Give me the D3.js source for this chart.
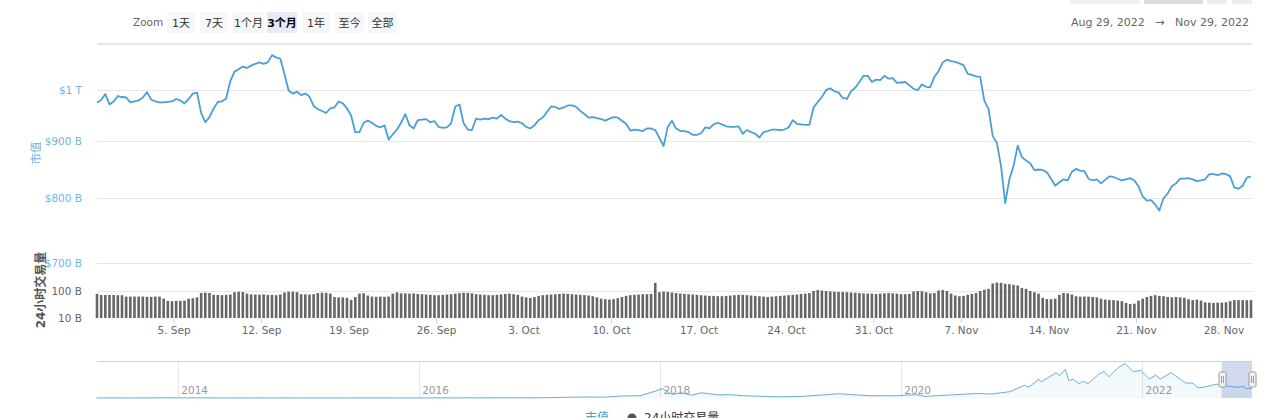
<!DOCTYPE html>
<html><head><meta charset="utf-8">
<script src="https://cdn.jsdelivr.net/npm/d3@7"></script>
<style>
html,body{margin:0;padding:0;background:#fff;}
svg{display:block;font-family:"DejaVu Sans","Noto Sans CJK SC",sans-serif;}
</style></head>
<body><svg id="c" width="1280" height="418"></svg>
<script>
// ---------- DATA ----------
const seriesStart = "2022-08-29T21:00:00Z";   // first sample
const stepHours = 8;                          // sampling interval
// total market cap, $B
const priceValues = [
975,980,992,971,977,988,986,985,975,977,
979,985,996,981,977,975,975,976,977,982,
979,973,982,993,995,954,936,946,963,976,
977,983,1019,1039,1044,1050,1047,1052,1056,1059,
1056,1059,1075,1070,1067,1034,999,993,997,990,
993,987,968,962,958,954,963,965,977,973,
963,949,917,917,935,939,935,929,926,930,
903,913,922,935,952,930,924,940,941,942,
936,938,927,925,926,934,967,971,934,922,
921,943,941,943,942,945,943,950,943,938,
936,937,934,927,924,930,940,945,956,967,
966,962,965,969,969,966,958,952,945,946,
944,942,939,943,946,945,939,933,920,922,
921,919,924,924,921,906,891,927,939,924,
919,919,917,912,912,915,926,924,932,935,
932,928,927,927,928,914,921,917,914,907,
917,919,922,922,921,922,926,940,933,932,
931,931,965,976,986,1000,1004,998,995,984,
982,998,1005,1017,1030,1030,1017,1022,1021,1030,
1024,1025,1015,1016,1017,1010,1003,1000,1012,1007,
1006,1028,1040,1059,1065,1062,1060,1057,1053,1034,
1032,1029,1028,978,962,910,897,855,792,832,
855,892,871,865,860,848,849,848,844,833,
821,827,832,830,845,850,847,846,833,830,
832,825,831,837,836,833,830,832,834,830,
820,803,796,797,790,780,800,808,820,825,
833,833,834,832,829,830,832,841,841,839,
842,841,837,818,816,821,835,837];
// 24h volume, $B
const volumeValues = [
78,71,71,71,71,70,70,62,62,62,
62,62,61,61,62,62,52,43,42,43,
43,44,52,54,58,84,87,84,72,71,
70,72,74,90,94,92,80,75,74,73,
75,71,72,70,74,88,94,94,90,76,
75,74,76,84,87,85,80,60,58,58,
56,47,60,80,82,68,62,61,62,61,
62,80,90,82,82,80,82,78,76,74,
72,70,70,72,74,76,80,84,86,85,
82,76,74,72,70,70,72,75,78,80,
76,72,62,58,55,60,66,70,72,74,
76,78,80,78,76,74,72,70,68,64,
58,52,50,48,50,54,60,66,70,72,
74,76,76,78,200,90,95,92,88,84,
80,78,76,74,72,70,68,66,66,64,
64,66,68,70,72,72,70,68,66,64,
62,60,62,64,66,68,70,72,74,78,
80,84,100,108,104,100,96,94,92,92,
90,88,86,84,82,80,80,78,80,82,
84,82,80,76,76,78,96,100,98,90,
82,84,104,108,100,80,68,64,66,72,
78,84,100,112,120,190,205,200,185,178,
170,160,130,120,100,90,80,56,50,50,
52,72,84,82,74,64,62,62,62,60,
58,52,48,47,46,44,42,36,33,34,
44,52,60,66,70,66,64,60,58,60,
58,56,50,46,48,44,38,37,36,37,
37,38,42,46,46,46,46,46];

const priceTicks = [1000, 900, 800, 700];
const priceTickLabels = ["$1 T", "$900 B", "$800 B", "$700 B"];
const priceGrid = [1100, 1000, 900, 800, 700];
const volumeTicks = [100, 10];
const volumeTickLabels = ["100 B", "10 B"];
const xTickDates = ["2022-09-05","2022-09-12","2022-09-19","2022-09-26","2022-10-03","2022-10-10","2022-10-17","2022-10-24","2022-10-31","2022-11-07","2022-11-14","2022-11-21","2022-11-28"];
const xTickLabels = ["5. Sep","12. Sep","19. Sep","26. Sep","3. Oct","10. Oct","17. Oct","24. Oct","31. Oct","7. Nov","14. Nov","21. Nov","28. Nov"];

const zoomButtons = ["1天","7天","1个月","3个月","1年","至今","全部"];
const selectedButton = "3个月";
const rangeFrom = "Aug 29, 2022";
const rangeTo = "Nov 29, 2022";
const priceTitle = "市值";
const volumeTitle = "24小时交易量";

// navigator: full history market cap ($B)
const navDates = ["2013-04-28","2013-11-30","2014-02-01","2014-06-01","2015-01-15","2015-06-01","2016-01-01","2016-06-15","2017-01-01","2017-05-25","2017-07-15","2017-09-01","2017-11-01","2017-12-17","2018-01-07","2018-02-06","2018-03-05","2018-04-06","2018-05-05","2018-06-30","2018-07-25","2018-09-10","2018-11-20","2018-12-15","2019-03-01","2019-06-26","2019-08-01","2019-09-25","2019-12-18","2020-02-14","2020-03-13","2020-06-01","2020-08-17","2020-10-01","2020-11-25","2021-01-08","2021-01-22","2021-02-21","2021-02-28","2021-04-14","2021-04-25","2021-05-12","2021-05-23","2021-06-05","2021-06-22","2021-07-06","2021-07-20","2021-08-23","2021-09-07","2021-09-21","2021-10-20","2021-11-09","2021-12-04","2021-12-27","2022-01-22","2022-02-10","2022-02-24","2022-03-29","2022-05-12","2022-06-03","2022-06-18","2022-07-08","2022-08-13","2022-09-07","2022-09-12","2022-10-20","2022-11-05","2022-11-10","2022-11-29"];
const navValues = [1.5,14,11,8,3.5,3.5,7,12,18,90,80,170,200,600,820,300,450,250,450,260,300,200,130,110,130,370,300,200,190,300,140,270,390,350,550,1100,950,1650,1400,2200,1950,2500,1500,1650,1250,1450,1250,2100,2300,1850,2650,3000,2300,2400,1650,2000,1650,2200,1300,1300,880,960,1200,970,1050,930,1050,820,840];
const navYears = ["2014-01-01","2016-01-01","2018-01-01","2020-01-01","2022-01-01"];
const navYearLabels = ["2014","2016","2018","2020","2022"];
const navSelection = ["2022-08-29","2022-11-29"];
const legendItems = ["市值","24小时交易量"];

// ---------- CHART ----------
const svg = d3.select("#c");
const blue = "#4a9fd6";
const t0 = new Date(seriesStart).getTime();
const times = priceValues.map((_, i) => new Date(t0 + i * stepHours * 3600e3));

const L = 97, R = 1252;
const x = d3.scaleUtc().domain([times[0], times[times.length - 1]]).range([97, 1251]);
const yP = d3.scaleLog().domain([700, 1100]).range([263, 44]);
const yV = d3.scaleLog().domain([10, 1000]).range([318, 264]);

// gridlines
svg.append("g").selectAll("line").data(priceGrid).join("line")
  .attr("x1", L).attr("x2", R).attr("y1", d => Math.round(yP(d)) + 0.5).attr("y2", d => Math.round(yP(d)) + 0.5)
  .attr("stroke", "#e6e6e6");
svg.append("line").attr("x1", L).attr("x2", R).attr("y1", Math.round(yV(100)) + 0.5).attr("y2", Math.round(yV(100)) + 0.5).attr("stroke", "#e6e6e6");

// price axis labels
const ap = svg.append("g").attr("transform", `translate(${L},0)`)
  .call(d3.axisLeft(yP).tickValues(priceTicks).tickFormat((d, i) => priceTickLabels[i]).tickSize(0).tickPadding(15));
ap.select(".domain").remove();
ap.selectAll("text").attr("fill", "#6fb5e0").style("font-size", "10.5px").style("font-family", "DejaVu Sans, sans-serif");

const av = svg.append("g").attr("transform", `translate(${L},0)`)
  .call(d3.axisLeft(yV).tickValues(volumeTicks).tickFormat((d, i) => volumeTickLabels[i]).tickSize(0).tickPadding(15));
av.select(".domain").remove();
av.selectAll("text").attr("fill", "#666").style("font-size", "10.5px").style("font-family", "DejaVu Sans, sans-serif");

// axis titles
svg.append("text").attr("transform", "translate(40,153) rotate(-90)").attr("text-anchor", "middle")
  .attr("fill", "#6fb5e0").style("font-size", "11.5px").text(priceTitle);
svg.append("text").attr("transform", "translate(45,290) rotate(-90)").attr("text-anchor", "middle")
  .attr("fill", "#555").style("font-size", "12px").style("font-weight", "bold").text(volumeTitle);

// volume bars
svg.append("g").selectAll("rect").data(volumeValues).join("rect")
  .attr("x", (d, i) => x(times[i]) - 1.3).attr("width", 2.6)
  .attr("y", d => yV(d)).attr("height", d => 318 - yV(d))
  .attr("fill", "#666");

// x axis
const xa = svg.append("g").attr("transform", "translate(0,318)")
  .call(d3.axisBottom(x).tickValues(xTickDates.map(s => new Date(s + "T00:00:00Z"))).tickFormat((d, i) => xTickLabels[i]).tickSize(5).tickPadding(4));
xa.select(".domain").remove();
xa.selectAll("line").attr("stroke", "#ccd6eb");
xa.selectAll("text").attr("fill", "#666").style("font-size", "10.5px").style("font-family", "DejaVu Sans, sans-serif");

// price line
svg.append("path").datum(priceValues)
  .attr("d", d3.line().x((d, i) => x(times[i])).y(d => yP(d)).curve(d3.curveLinear))
  .attr("fill", "none").attr("stroke", blue).attr("stroke-width", 1.8).attr("stroke-linejoin", "round");

// top bar: zoom buttons
svg.append("text").attr("x", 133).attr("y", 26).attr("fill", "#666").style("font-size", "10.5px").text("Zoom");
const bx = [167, 200, 233, 267, 302, 335, 368];
const bw = [28, 28, 31, 30, 28, 29, 29];
const bg = svg.append("g");
zoomButtons.forEach((b, i) => {
  const sel = b === selectedButton;
  bg.append("rect").attr("x", bx[i]).attr("y", 12).attr("width", bw[i]).attr("height", 21)
    .attr("fill", sel ? "#e6ebf5" : "#f7f7f7");
  bg.append("text").attr("x", bx[i] + bw[i] / 2).attr("y", 27).attr("text-anchor", "middle")
    .attr("fill", sel ? "#000" : "#333").style("font-size", "11px").style("font-weight", sel ? "bold" : "normal").text(b);
});
// top plot border
svg.append("line").attr("x1", L).attr("x2", R).attr("y1", 43.5).attr("y2", 43.5).attr("stroke", "#e6e6e6");

// cut-off boxes at top right
[[1070, 70, "#f0f0f0"], [1144, 59, "#dcdcdc"], [1207, 20, "#eeeeee"], [1232, 20, "#eeeeee"]].forEach(b => {
  svg.append("rect").attr("x", b[0]).attr("y", 0).attr("width", b[1]).attr("height", 4).attr("fill", b[2]);
});
svg.append("text").attr("x", 1249).attr("y", 26).attr("text-anchor", "end").attr("fill", "#666")
  .style("font-size", "11px").style("white-space", "pre").attr("xml:space", "preserve")
  .text(rangeFrom + "   \u2192   " + rangeTo);

// ---------- navigator ----------
const nx = d3.scaleUtc().domain([new Date(navDates[0]), new Date(navDates[navDates.length - 1])]).range([96.5, 1252]);
const ny = d3.scaleLinear().domain([0, 3050]).range([398, 363]);
svg.append("line").attr("x1", L).attr("x2", R).attr("y1", 361.5).attr("y2", 361.5).attr("stroke", "#d0d0d0");
svg.append("g").selectAll("line").data(navYears).join("line")
  .attr("x1", d => Math.round(nx(new Date(d))) + 0.5).attr("x2", d => Math.round(nx(new Date(d))) + 0.5)
  .attr("y1", 362).attr("y2", 398).attr("stroke", "#e6e6e6");
svg.append("g").selectAll("text").data(navYears).join("text")
  .attr("x", d => nx(new Date(d)) + 3).attr("y", 394).attr("fill", "#999").style("font-size", "10.5px")
  .text((d, i) => navYearLabels[i]);
const navPts = navDates.map((d, i) => [new Date(d), navValues[i]]);
svg.append("path").datum(navPts)
  .attr("d", d3.area().x(d => nx(d[0])).y0(398).y1(d => ny(d[1])))
  .attr("fill", "rgba(74,159,214,0.06)");
svg.append("path").datum(navPts)
  .attr("d", d3.line().x(d => nx(d[0])).y(d => ny(d[1])))
  .attr("fill", "none").attr("stroke", "#6aaed8").attr("stroke-width", 1);
const s0 = nx(new Date(navSelection[0])), s1 = nx(new Date(navSelection[1]));
svg.append("rect").attr("x", s0).attr("y", 362).attr("width", s1 - s0).attr("height", 36)
  .attr("fill", "rgba(102,133,194,0.3)");
[s0, s1].forEach(hx => {
  const g = svg.append("g").attr("transform", `translate(${Math.round(hx) + 0.5},372)`);
  g.append("rect").attr("x", -3.5).attr("y", 0).attr("width", 7).attr("height", 15).attr("rx", 1.5)
    .attr("fill", "#f2f2f2").attr("stroke", "#999");
  g.append("line").attr("x1", -1).attr("x2", -1).attr("y1", 4).attr("y2", 11).attr("stroke", "#999");
  g.append("line").attr("x1", 1).attr("x2", 1).attr("y1", 4).attr("y2", 11).attr("stroke", "#999");
});

// legend (cut off at bottom, as in the reference)
svg.append("text").attr("x", 585).attr("y", 422).attr("fill", blue).style("font-size", "12px").text(legendItems[0]);
svg.append("circle").attr("cx", 632).attr("cy", 418).attr("r", 4.5).attr("fill", "#555");
svg.append("text").attr("x", 644).attr("y", 422).attr("fill", "#333").style("font-size", "12px").text(legendItems[1]);
</script></body></html>
